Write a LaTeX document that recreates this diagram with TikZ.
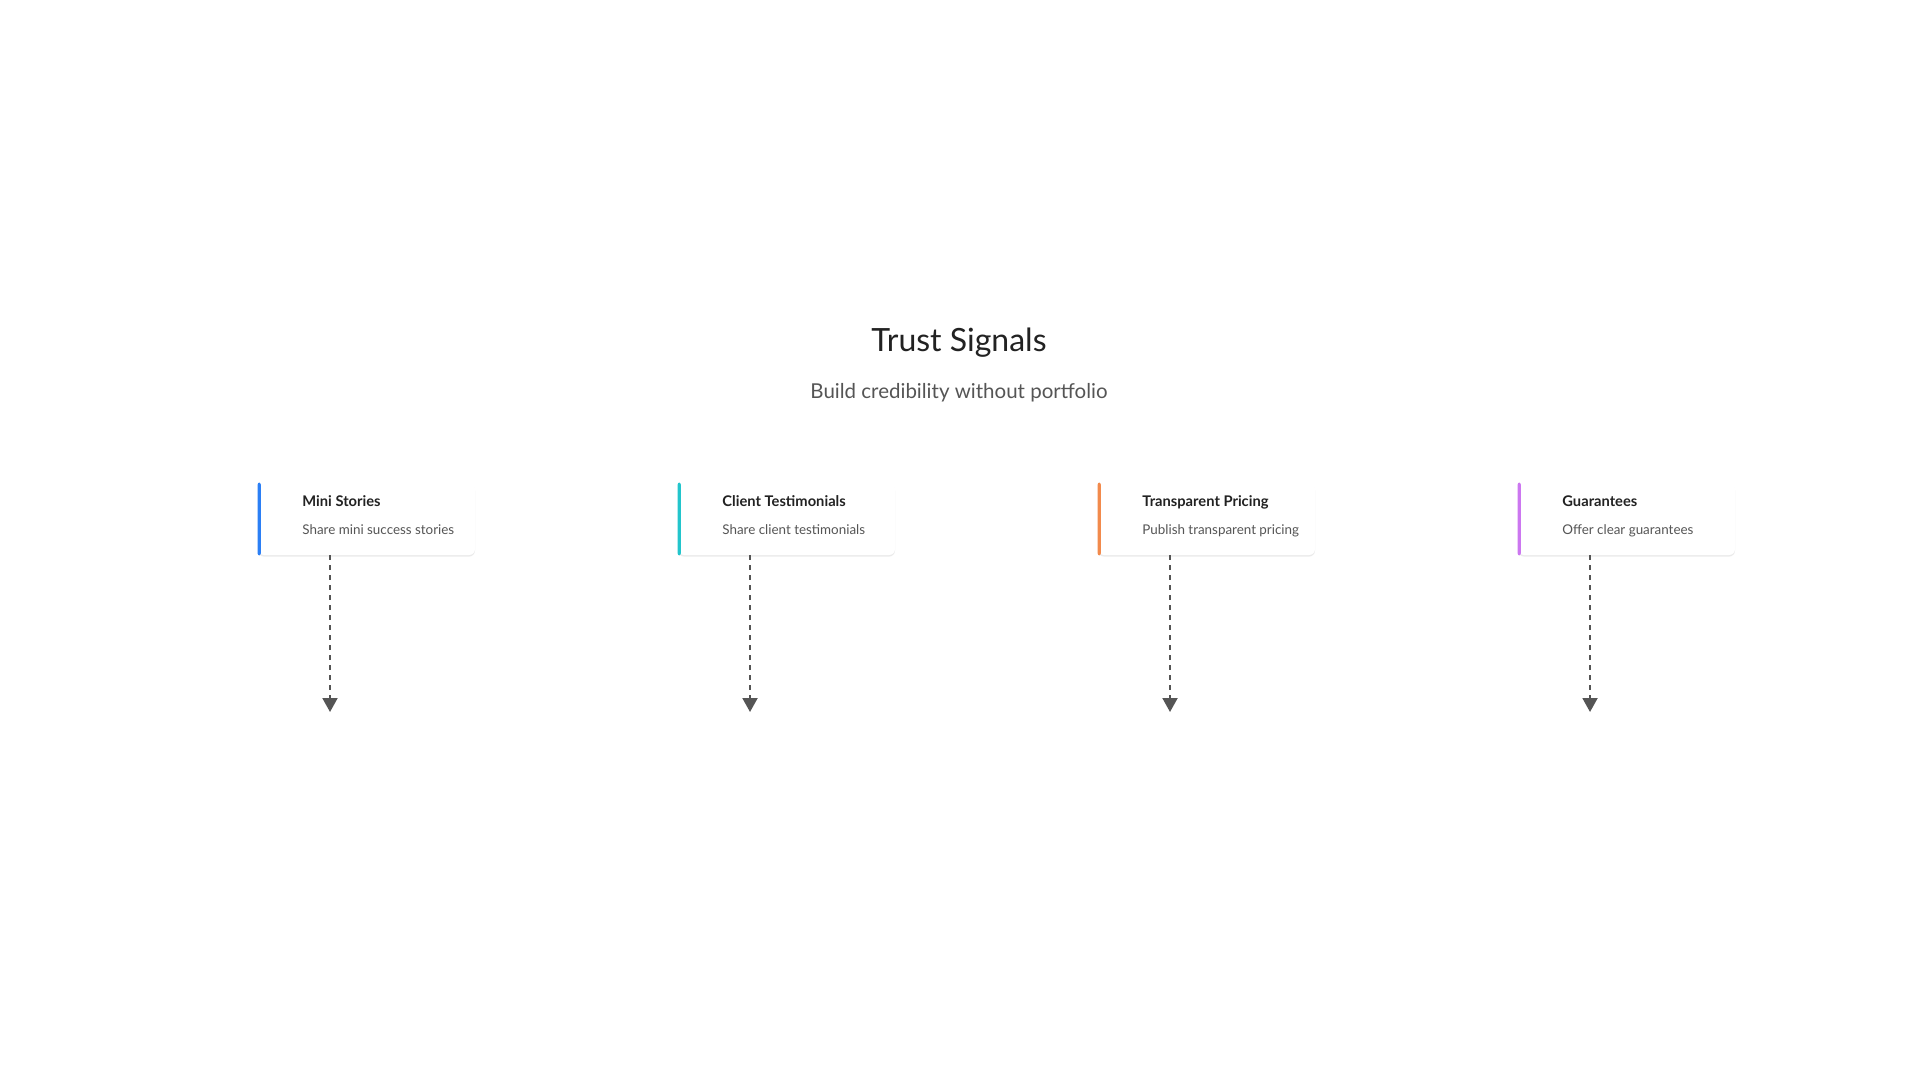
\documentclass[tikz,border=0pt]{standalone}
\usepackage{fontspec}
\setmainfont{Lato}
\usetikzlibrary{arrows.meta,shadows}
\definecolor{blueacc}{HTML}{2B7FF5}
\definecolor{tealacc}{HTML}{22C5CC}
\definecolor{orangeacc}{HTML}{F28A4C}
\definecolor{purpleacc}{HTML}{CC77F0}
\definecolor{headgray}{HTML}{222222}
\definecolor{subgray}{HTML}{555555}
\definecolor{linegray}{HTML}{555555}
\tikzstyle{card}       = [rectangle, rounded corners=3pt, fill=white, inner sep=0pt,
                          minimum width=108.5pt, minimum height=36pt,
                          drop shadow={shadow xshift=0pt, shadow yshift=-0.8pt, opacity=0.08, fill=black}]
\tikzstyle{card title} = [anchor=base west, inner sep=0pt, text=headgray, font=\bfseries\fontsize{7.35}{8}\selectfont]
\tikzstyle{card text}  = [anchor=base west, inner sep=0pt, text=subgray, font=\fontsize{6.7}{7}\selectfont]
\tikzstyle{flow}       = [draw=linegray, line width=1pt, dash pattern=on 2.5pt off 2.5pt,
                          -{Triangle[width=7.5pt,length=7pt,fill=linegray]}]

\begin{document}
\begin{tikzpicture}[x=0.5pt, y=-0.5pt]
    \fill[white] (0,0) rectangle (1920,1080);
    \useasboundingbox (0,0) rectangle (1920,1080);

    % Heading
    \node(title)[anchor=base, inner sep=0pt, text=headgray, font=\fontsize{16}{18}\selectfont] at (959,351) {Trust Signals};
    \node(subtitle)[anchor=base, inner sep=0pt, text=subgray, font=\fontsize{10.25}{12}\selectfont] at (959,398) {Build credibility without portfolio};

    % Cards
    \node(mini)[card]    at (366.5,519) {};
    \node(client)[card]  at (786.5,519) {};
    \node(pricing)[card] at (1206.5,519) {};
    \node(guar)[card]    at (1626.5,519) {};

    % Accent bars
    \fill[blueacc, rounded corners=1pt]   (mini.north west)    rectangle ([xshift=1.6pt]mini.south west);
    \fill[tealacc, rounded corners=1pt]   (client.north west)  rectangle ([xshift=1.6pt]client.south west);
    \fill[orangeacc, rounded corners=1pt] (pricing.north west) rectangle ([xshift=1.6pt]pricing.south west);
    \fill[purpleacc, rounded corners=1pt] (guar.north west)    rectangle ([xshift=1.6pt]guar.south west);

    % Card texts
    \node(mini t)[card title]    at (302,506)  {Mini Stories};
    \node(mini s)[card text]     at (302,534)  {Share mini success stories};
    \node(client t)[card title]  at (722,506)  {Client Testimonials};
    \node(client s)[card text]   at (722,534)  {Share client testimonials};
    \node(pricing t)[card title] at (1142,506) {Transparent Pricing};
    \node(pricing s)[card text]  at (1142,534) {Publish transparent pricing};
    \node(guar t)[card title]    at (1562,506) {Guarantees};
    \node(guar s)[card text]     at (1562,534) {Offer clear guarantees};

    % Dashed arrows below the cards
    \coordinate(mini end)    at (330,712);
    \coordinate(client end)  at (750,712);
    \coordinate(pricing end) at (1170,712);
    \coordinate(guar end)    at (1590,712);

    \draw[flow](mini.south -| mini end)--(mini end);
    \draw[flow](client.south -| client end)--(client end);
    \draw[flow](pricing.south -| pricing end)--(pricing end);
    \draw[flow](guar.south -| guar end)--(guar end);

\end{tikzpicture}
\end{document}
